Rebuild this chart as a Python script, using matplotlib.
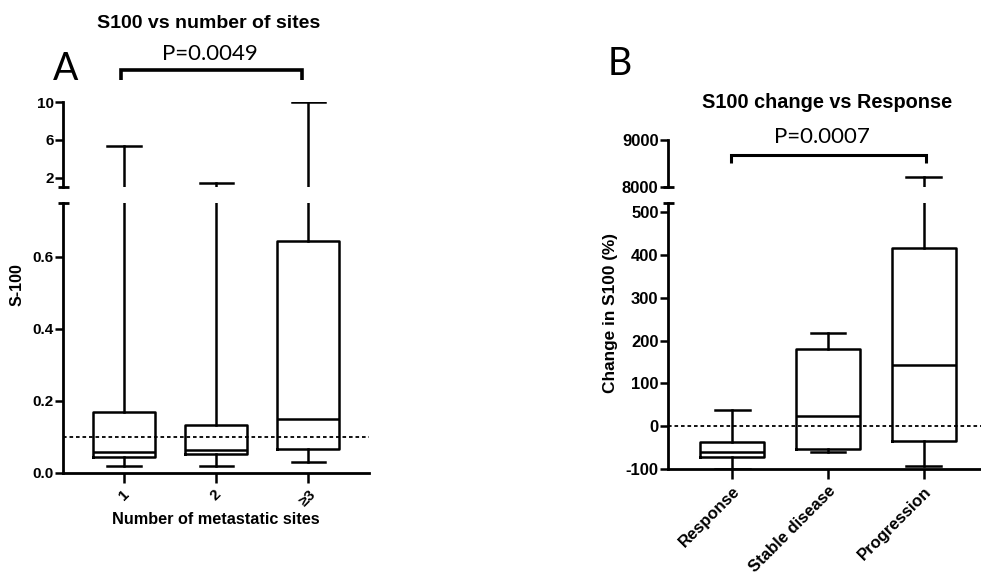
import matplotlib
matplotlib.use("Agg")
import matplotlib.pyplot as plt
from matplotlib.lines import Line2D

# ---------------- data ----------------
groups_a = ['1', '2', '\u22653']
a_whislo = [0.02, 0.02, 0.029]
a_q1 = [0.044, 0.052, 0.066]
a_med = [0.058, 0.063, 0.15]
a_q3 = [0.17, 0.133, 0.643]
a_whishi = [5.4, 1.45, 10.0]
a_ref = 0.1

groups_b = ['Response', 'Stable disease', 'Progression']
b_whislo = [-100, -61, -93]
b_q1 = [-72, -54, -34]
b_med = [-61, 24, 144]
b_q3 = [-38, 181, 416]
b_whishi = [38, 219, 8200]
b_ref = 0

a_lower_ticks = [0.0, 0.2, 0.4, 0.6]
a_upper_ticks = [2, 6, 10]
b_lower_ticks = [-100, 0, 100, 200, 300, 400, 500]
b_upper_ticks = [8000, 9000]

W, H = 981, 575
fig = plt.figure(figsize=(W / 100, H / 100), dpi=100)

LAB = 'Liberation Sans'
LW = 1.8


def px_axes(x0, x1, ytop, ybot):
    return fig.add_axes([x0 / W, 1 - ybot / H, (x1 - x0) / W, (ybot - ytop) / H])


def stats(lo, q1, med, q3, hi):
    return [dict(whislo=l, q1=a, med=m, q3=b, whishi=h, fliers=[])
            for l, a, m, b, h in zip(lo, q1, med, q3, hi)]


def draw_boxes(ax, st):
    props = dict(color='black', linewidth=LW)
    ax.bxp(st, positions=[1, 2, 3], widths=0.67, capwidths=0.36,
           showfliers=False, boxprops=props, whiskerprops=props,
           capprops=props, medianprops=props)


def style(ax, lower, fs):
    for s in ['top', 'right']:
        ax.spines[s].set_visible(False)
    ax.spines['left'].set_linewidth(2)
    ax.tick_params(axis='y', direction='out', length=6, width=1.8, pad=1)
    for lab in ax.get_yticklabels():
        lab.set_fontfamily(LAB)
        lab.set_fontweight('bold')
        lab.set_fontsize(fs)
    if lower:
        ax.spines['bottom'].set_linewidth(2)
        ax.tick_params(axis='x', direction='out', length=7, width=1.8)
    else:
        ax.spines['bottom'].set_visible(False)
        ax.set_xticks([])


def break_mark(ax, y):
    ax.plot([-0.018, 0.018], [y, y], transform=ax.transAxes, color='black',
            lw=2, clip_on=False, solid_capstyle='butt')


# ---------------- Panel A ----------------
stA = stats(a_whislo, a_q1, a_med, a_q3, a_whishi)
axA_lo = px_axes(63.3, 369, 202.7, 472.7)
axA_hi = px_axes(63.3, 369, 102.3, 187)
for ax in (axA_lo, axA_hi):
    draw_boxes(ax, stA)
    ax.set_xlim(0.34, 3.66)
axA_lo.set_ylim(0, 0.75)
axA_hi.set_ylim(1, 10)
axA_lo.set_yticks(a_lower_ticks)
axA_lo.set_yticklabels([f'{t:.1f}' for t in a_lower_ticks])
axA_hi.set_yticks(a_upper_ticks)
axA_hi.set_yticklabels([str(t) for t in a_upper_ticks])
axA_lo.set_xticks([1, 2, 3])
axA_lo.set_xticklabels(groups_a, rotation=45, fontfamily=LAB,
                       fontweight='bold', fontsize=11)
axA_lo.axhline(a_ref, color='black', lw=1.3, ls=(0, (2, 1.6)))
style(axA_lo, True, 11)
style(axA_hi, False, 11)
break_mark(axA_lo, 1.0)
break_mark(axA_hi, 0.0)

# ---------------- Panel B ----------------
stB = stats(b_whislo, b_q1, b_med, b_q3, b_whishi)
axB_lo = px_axes(668.3, 981, 203.3, 469)
axB_hi = px_axes(668.3, 981, 140, 186.7)
for ax in (axB_lo, axB_hi):
    draw_boxes(ax, stB)
    ax.set_xlim(0.33, 3.60)
axB_lo.set_ylim(-100, 521)
axB_hi.set_ylim(8000, 9000)
axB_lo.set_yticks(b_lower_ticks)
axB_lo.set_yticklabels([str(t) for t in b_lower_ticks])
axB_hi.set_yticks(b_upper_ticks)
axB_hi.set_yticklabels([str(t) for t in b_upper_ticks])
axB_lo.set_xticks([1, 2, 3])
axB_lo.set_xticklabels(groups_b, rotation=45, ha='right',
                       rotation_mode='anchor', fontfamily=LAB,
                       fontweight='bold', fontsize=12)
axB_lo.axhline(b_ref, color='black', lw=1.3, ls=(0, (2, 1.6)))
style(axB_lo, True, 12)
style(axB_hi, False, 12)
break_mark(axB_lo, 1.0)
break_mark(axB_hi, 0.0)


# ---------------- texts & brackets ----------------
def ftext(x, y, s, **kw):
    fig.text(x / W, 1 - y / H, s, ha='center', va='center', **kw)


def bracket(x0, x1, y, drop, lw):
    xs = [x0 / W, x0 / W, x1 / W, x1 / W]
    ys = [1 - (y + drop) / H, 1 - y / H, 1 - y / H, 1 - (y + drop) / H]
    fig.add_artist(Line2D(xs, ys, color='black', lw=lw,
                          solid_joinstyle='miter', solid_capstyle='butt'))


ftext(209, 23, 'S100 vs number of sites', fontfamily=LAB,
      fontweight='bold', fontsize=14)
ftext(210, 54, 'P=0.0049', fontfamily='Lato', fontsize=16)
bracket(121, 301.5, 69.5, 10.5, 2.6)
ftext(66, 69, 'A', fontfamily='Lato', fontsize=27)
ftext(216, 520, 'Number of metastatic sites', fontfamily=LAB,
      fontweight='bold', fontsize=11.7)
ftext(17, 285, 'S-100', fontfamily=LAB, fontweight='bold', fontsize=11.5,
      rotation=90)

ftext(620, 64, 'B', fontfamily='Lato', fontsize=27)
ftext(827, 103, 'S100 change vs Response', fontfamily=LAB,
      fontweight='bold', fontsize=14.3)
ftext(822, 137, 'P=0.0007', fontfamily='Lato', fontsize=16)
bracket(731, 925.5, 155, 8, 2.2)
ftext(611, 313, 'Change in S100 (%)', fontfamily=LAB, fontweight='bold',
      fontsize=12.4, rotation=90)

fig.savefig('out.png', dpi=100)
